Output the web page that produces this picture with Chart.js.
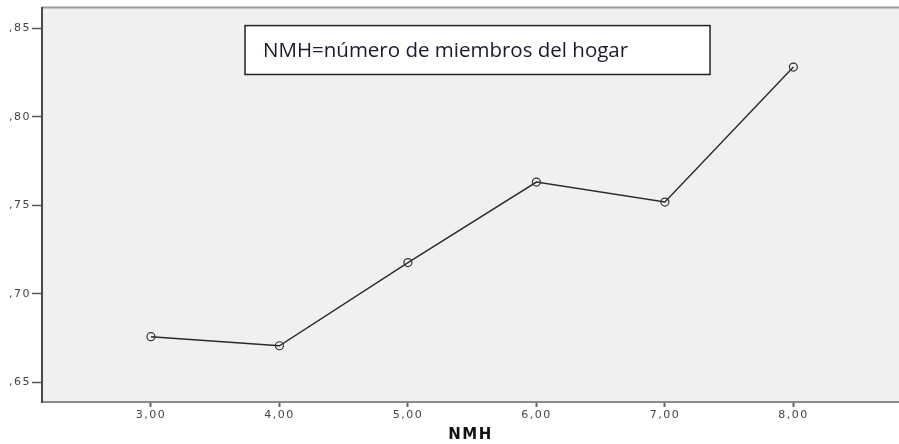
<!DOCTYPE html>
<html>
<head>
<meta charset="utf-8">
<script src="https://cdn.jsdelivr.net/npm/chart.js@4.4.1/dist/chart.umd.min.js"></script>
<style>
  html, body { margin: 0; padding: 0; background: #ffffff; }
  #wrap { width: 899px; height: 444px; }
</style>
</head>
<body>
<div id="wrap"><canvas id="c" width="899" height="444"></canvas></div>
<script>
// ---- data ----
const nmhValues = [3, 4, 5, 6, 7, 8];
const meanValues = [0.6758, 0.6707, 0.7177, 0.7632, 0.7519, 0.8282];
const xTickValues = [3, 4, 5, 6, 7, 8];
const yTickValues = [0.65, 0.70, 0.75, 0.80, 0.85];
const xAxisTitle = 'NMH';
const noteText = 'NMH=número de miembros del hogar';

const points = nmhValues.map((x, i) => ({ x: x, y: meanValues[i] }));

const plotBg = {
  id: 'plotBg',
  beforeDraw(chart) {
    const { ctx, chartArea: a } = chart;
    ctx.save();
    ctx.fillStyle = '#f0f0f0';
    ctx.fillRect(a.left, a.top, a.right - a.left, a.bottom - a.top);
    ctx.strokeStyle = '#9a9a9a';
    ctx.lineWidth = 2;
    ctx.beginPath();
    ctx.moveTo(a.left, a.top);
    ctx.lineTo(a.right, a.top);
    ctx.stroke();
    ctx.restore();
    ctx.letterSpacing = '1.5px';
  },
  beforeDatasetsDraw(chart) {
    chart.ctx.letterSpacing = '0px';
  },
  afterDraw(chart) {
    const { ctx, chartArea: a } = chart;
    ctx.letterSpacing = '0px';
    const w = a.right - a.left, h = a.bottom - a.top;
    const x0 = a.left + 0.2369 * w, x1 = a.left + 0.7795 * w;
    const y0 = a.top + 0.0456 * h, y1 = a.top + 0.1696 * h;
    ctx.save();
    ctx.fillStyle = '#ffffff';
    ctx.fillRect(x0, y0, x1 - x0, y1 - y0);
    ctx.strokeStyle = '#222222';
    ctx.lineWidth = 1.5;
    ctx.strokeRect(x0, y0, x1 - x0, y1 - y0);
    ctx.fillStyle = '#1a1a2a';
    ctx.font = '20.5px "Open Sans"';
    ctx.textBaseline = 'alphabetic';
    ctx.textAlign = 'left';
    ctx.fillText(noteText, x0 + 18, y0 + 31);
    ctx.restore();
  }
};

new Chart(document.getElementById('c'), {
  type: 'line',
  data: {
    datasets: [{
      data: points,
      borderColor: '#2a2a2a',
      borderWidth: 1.4,
      tension: 0,
      pointRadius: 4,
      pointBorderWidth: 1.2,
      pointBorderColor: '#333333',
      pointBackgroundColor: 'rgba(0,0,0,0)',
      fill: false
    }]
  },
  options: {
    responsive: false,
    animation: false,
    layout: { autoPadding: false, padding: { top: 7, right: 0, left: 0, bottom: 0 } },
    plugins: { legend: { display: false }, tooltip: { enabled: false } },
    scales: {
      x: {
        type: 'linear',
        min: 2.152,
        max: 8.822,
        afterBuildTicks(scale) { scale.ticks = xTickValues.map(v => ({ value: v })); },
        afterFit(scale) { scale.height = 42; scale.paddingLeft = 0; scale.paddingRight = 0; },
        grid: { drawOnChartArea: false, drawTicks: true, tickLength: 5, tickColor: '#666666', tickWidth: 2 },
        border: { display: true, color: '#8a8a8a', width: 2 },
        ticks: {
          padding: 2,
          color: '#444444',
          font: { family: 'DejaVu Sans', size: 11 },
          maxRotation: 0,
          callback: v => v.toFixed(2).replace('.', ',')
        },
        title: {
          display: true,
          text: xAxisTitle,
          color: '#111111',
          font: { family: 'DejaVu Sans', size: 15, weight: 'bold' },
          padding: { top: 0, bottom: 0 }
        }
      },
      y: {
        type: 'linear',
        min: 0.6389,
        max: 0.8618,
        afterBuildTicks(scale) { scale.ticks = yTickValues.map(v => ({ value: v })); },
        afterFit(scale) { scale.width = 42; },
        grid: { drawOnChartArea: false, drawTicks: true, tickLength: 10, tickColor: '#555555', tickWidth: 1.5 },
        border: { display: true, color: '#4a4a4a', width: 2 },
        ticks: {
          padding: 1,
          color: '#444444',
          font: { family: 'DejaVu Sans', size: 11 },
          callback: v => v.toFixed(2).replace('0.', ',')
        }
      }
    }
  },
  plugins: [plotBg]
});
</script>
</body>
</html>
